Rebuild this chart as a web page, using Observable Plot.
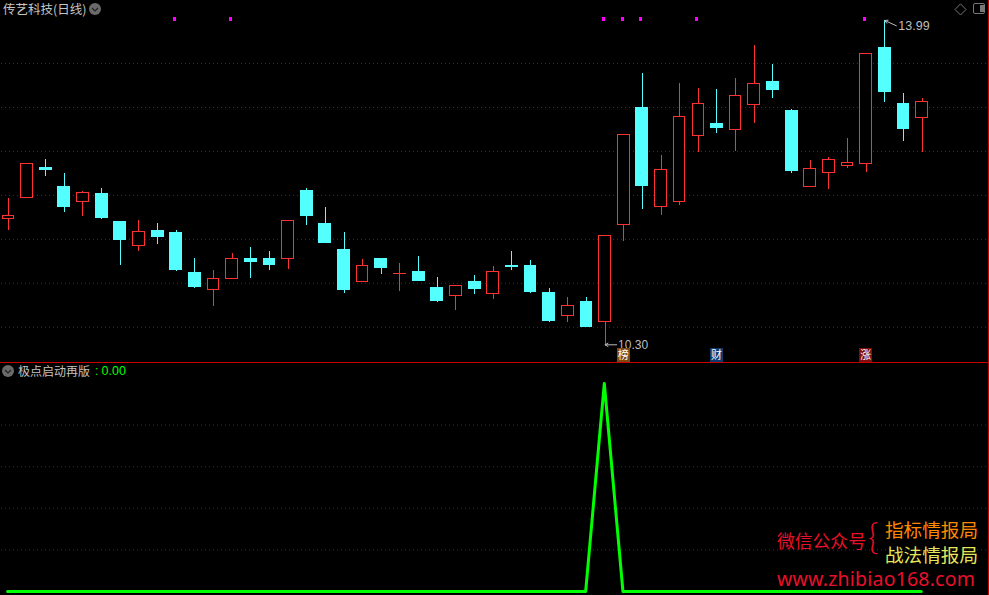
<!DOCTYPE html>
<html><head><meta charset="utf-8">
<script src="https://cdn.jsdelivr.net/npm/d3@7"></script>
<script src="https://cdn.jsdelivr.net/npm/@observablehq/plot@0.6"></script>
<style>
html,body{margin:0;padding:0;background:#000;overflow:hidden}
#wrap{position:relative;width:989px;height:595px;background:#000;overflow:hidden}
#wrap>.plot{position:absolute;left:0}
.t{position:absolute;white-space:nowrap;line-height:1;font-family:"Noto Sans CJK SC",sans-serif}
.ico{position:absolute}
</style></head><body>
<div id="wrap">
  <div class="plot" id="top" style="top:0"></div>
  <div class="plot" id="bot" style="top:362px"></div>
  <div style="position:absolute;left:0;top:362px;width:989px;height:1px;background:#c80000"></div>
  <div style="position:absolute;left:988px;top:0;width:1px;height:595px;background:#c80000"></div>

  <div class="t" style="left:3px;top:3px;font-size:12.5px;color:#c4c4c4">传艺科技(日线)</div>
  <svg class="ico" style="left:89px;top:3px" width="12" height="12"><circle cx="6" cy="6" r="6" fill="#6a6a6a"/><path d="M3 5 L6 8 L9 5" fill="none" stroke="#222" stroke-width="1.2"/></svg>
  <svg class="ico" style="left:954px;top:3px" width="13" height="13"><path d="M6.5 .8 L12 6.5 L6.5 12 L1 6.5Z" fill="none" stroke="#777"/></svg>
  <svg class="ico" style="left:973px;top:3px" width="13" height="13"><rect x=".5" y=".5" width="11" height="10" rx="1.5" fill="none" stroke="#777"/><rect x="7" y="2" width="4" height="7" fill="#777"/></svg>

  <svg class="ico" style="left:2px;top:365px" width="12" height="12"><circle cx="6" cy="6" r="6" fill="#6a6a6a"/><path d="M3 5 L6 8 L9 5" fill="none" stroke="#222" stroke-width="1.2"/></svg>
  <div class="t" style="left:18px;top:365px;font-size:12px;color:#c4c4c4">极点启动再版</div>
  <div class="t" style="left:95px;top:365px;font-size:12.5px;color:#00ff00;font-family:'Liberation Sans'">:</div>
  <div class="t" style="left:101.5px;top:365px;font-size:12.5px;color:#00ff00;font-family:'Liberation Sans'">0.00</div>

  <div class="t" style="left:777px;top:532px;font-size:17.8px;color:#e8102a">微信公众号</div>
  <div class="t" style="left:868px;top:517px;font-size:36px;color:#e8102a;font-family:'Lato';font-weight:300">{</div>
  <div class="t" style="left:885px;top:520px;font-size:18.6px;color:#ff8a00">指标情报局</div>
  <div class="t" style="left:885px;top:545px;font-size:18.6px;color:#e6e65a">战法情报局</div>
  <div class="t" style="left:777px;top:569px;font-size:19.5px;color:#e8102a;font-family:'Noto Sans';letter-spacing:.2px">www.zhibiao168.com</div>
</div>
<script>
const days = d3.range(50);
const opens = [11.729,11.968,12.318,12.101,11.923,12.022,11.703,11.422,11.601,11.578,11.123,10.921,11.047,11.282,11.282,11.274,12.056,11.680,11.385,11.013,11.282,11.108,11.134,10.952,10.853,11.020,10.876,11.202,11.202,10.895,10.625,10.793,10.557,11.661,13.000,11.866,11.923,12.674,12.818,12.742,13.026,13.296,12.966,12.093,12.253,12.332,12.355,13.683,13.046,12.878];
const highs = [11.965,12.360,12.409,12.249,12.044,12.078,11.703,11.714,11.680,11.601,11.282,11.146,11.339,11.407,11.362,11.711,12.078,11.862,11.578,11.271,11.282,11.225,11.305,11.066,10.971,11.089,11.191,11.362,11.259,10.941,10.838,10.838,11.540,12.690,13.387,12.454,13.273,13.216,13.205,13.330,13.705,13.489,12.977,12.397,12.431,12.647,13.611,13.990,13.159,13.102];
const lows = [11.601,11.968,12.215,11.805,11.763,11.726,11.202,11.362,11.441,11.134,10.941,10.736,11.047,11.055,11.146,11.157,11.658,11.453,10.884,11.013,11.100,10.907,11.020,10.781,10.690,10.872,10.816,11.146,10.884,10.554,10.554,10.497,10.300,11.479,11.840,11.771,11.885,12.488,12.704,12.499,12.818,13.102,12.249,12.093,12.067,12.306,12.261,13.057,12.613,12.491];
const closes = [11.760,12.352,12.283,11.862,12.022,11.737,11.487,11.586,11.521,11.146,10.952,11.051,11.279,11.237,11.202,11.711,11.760,11.453,10.918,11.199,11.168,11.108,11.020,10.793,10.971,10.929,11.131,11.180,10.895,10.565,10.744,10.497,11.540,12.690,12.101,12.291,12.894,13.042,12.761,13.133,13.270,13.193,12.272,12.303,12.405,12.371,13.611,13.171,12.750,13.065];
const signalDays = [9,12,32,33,34,37,46];
const signalLevel = 14.007;
const priceGrid = [13.5,13,12.5,12,11.5,11,10.5];
const badgeDays = [33,38,46];
const badgeLabels = ["榜","财","涨"];
const badgeColors = ["#80480f","#0f3a6e","#7d0f0f"];
const badgeLevel = 10.184;
const indicator = days.map(i => i === 32 ? 1 : 0);
const indicatorGrid = [0.8,0.6,0.4,0.2];

const RED = "#ff3232", CYAN = "#54ffff", GREY = "#bdbdbd", GRID = "#8e1010";
const candles = days.map(i => ({i, o:opens[i], h:highs[i], l:lows[i], c:closes[i],
  top:Math.max(opens[i],closes[i]), bot:Math.min(opens[i],closes[i])}));
const ups = candles.filter(d => d.c > d.o), downs = candles.filter(d => d.c < d.o), flats = candles.filter(d => d.c === d.o);
const xScale = {type:"linear", domain:[0,49], range:[7.9,921.6]};
const crisp = {shapeRendering:"crispEdges"};
const gridStyle = {stroke:GRID, strokeWidth:1, strokeDasharray:"1 3", strokeDashoffset:0};
const colorOf = d => d.c >= d.o ? RED : CYAN;

document.getElementById("top").append(Plot.plot({
  width:989, height:362, marginTop:0, marginBottom:0, marginLeft:1, marginRight:2,
  style:{background:"transparent"},
  x:{...xScale, axis:null},
  y:{type:"linear", domain:[10.30,13.99], range:[344.3,20], axis:null},
  marks:[
    Plot.ruleY(priceGrid, {...gridStyle}),
    Plot.ruleX(candles, {x:"i", y1:"h", y2:"top", stroke:colorOf, strokeWidth:1, ...crisp}),
    Plot.ruleX(candles, {x:"i", y1:"bot", y2:"l", stroke:colorOf, strokeWidth:1, ...crisp}),
    Plot.rect(downs, {x1:d=>d.i-.345, x2:d=>d.i+.345, y1:"top", y2:"bot", fill:CYAN, ...crisp}),
    Plot.rect(ups, {x1:d=>d.i-.31, x2:d=>d.i+.31, y1:"top", y2:"bot", fill:"#000", stroke:RED, strokeWidth:1, ...crisp}),
    Plot.ruleY(flats, {x1:d=>d.i-.345, x2:d=>d.i+.345, y:"c", stroke:RED, strokeWidth:1, ...crisp}),
    Plot.dot(signalDays, {x:d=>d, y:()=>signalLevel, dx:-1.5, symbol:"square", r:1.7, fill:"#ff00ff", ...crisp}),
    Plot.arrow([0], {x1:()=>32.62, y1:()=>10.30, x2:()=>32, y2:()=>10.30, bend:0, headLength:5, stroke:GREY, strokeWidth:1, inset:0}),
    Plot.text(["10.30"], {x:()=>32, y:()=>10.30, dx:13, dy:0, text:d=>d, textAnchor:"start", fill:GREY, fontSize:12, fontFamily:"Liberation Sans"}),
    Plot.arrow([0], {x1:()=>47.62, y1:()=>13.93, x2:()=>47, y2:()=>13.99, bend:0, headLength:5, stroke:GREY, strokeWidth:1, inset:0}),
    Plot.text(["13.99"], {x:()=>47, y:()=>13.99, dx:13.5, dy:5.5, text:d=>d, textAnchor:"start", fill:GREY, fontSize:12.5, fontFamily:"Liberation Sans"}),
    Plot.dot(d3.range(3), {x:j=>badgeDays[j], y:()=>badgeLevel, dx:-0.5, symbol:"square", r:7.4, fill:j=>badgeColors[j], ...crisp}),
    Plot.text(d3.range(3), {x:j=>badgeDays[j], y:()=>badgeLevel, dx:-0.5, dy:0.5, text:j=>badgeLabels[j], fill:"#fff", fontSize:11, fontFamily:"Noto Sans CJK SC"})
  ]
}));

document.getElementById("bot").append(Plot.plot({
  width:989, height:233, marginTop:0, marginBottom:0, marginLeft:1, marginRight:2,
  style:{background:"transparent"},
  x:{...xScale, axis:null},
  y:{type:"linear", domain:[0,1], range:[229,21], axis:null},
  marks:[
    Plot.ruleY(indicatorGrid, {...gridStyle}),
    Plot.line(days, {x:d=>d, y:d=>indicator[d], dx:-0.8, stroke:"#00ff00", strokeWidth:3, curve:"linear"})
  ]
}));
</script>
</body></html>
